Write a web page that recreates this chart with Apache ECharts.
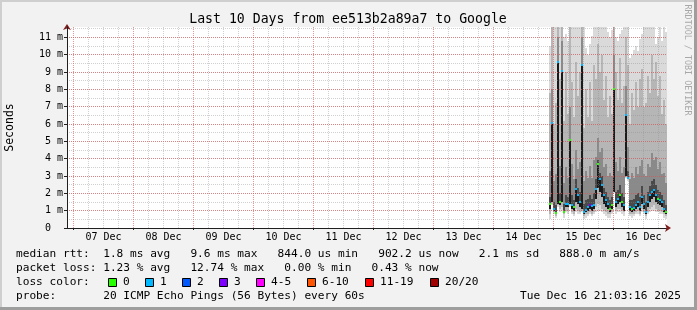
<!DOCTYPE html>
<html><head><meta charset="utf-8">
<script src="https://cdn.jsdelivr.net/npm/echarts@6/dist/echarts.min.js"></script>
<style>html,body{margin:0;padding:0;background:#f2f2f2}#c{width:697px;height:310px}</style>
</head><body><div id="c"></div>
<script>
// ---------------- data ----------------
const titleText = 'Last 10 Days from ee513b2a89a7 to Google';
const yAxisName = 'Seconds';
const sideText = 'RRDTOOL / TOBI OETIKER';
// x axis in hours since 07 Dec 00:00
const xStart = -2.6, xEnd = 237.4;
const dayLabels = ['07 Dec','08 Dec','09 Dec','10 Dec','11 Dec','12 Dec','13 Dec','14 Dec','15 Dec','16 Dec'];
const dayLabelHours = [12,36,60,84,108,132,156,180,204,228];
const midnightHours = [0,24,48,72,96,120,144,168,192,216];
const sixHourHours = [6,12,18,30,36,42,54,60,66,78,84,90,102,108,114,126,132,138,150,156,162,174,180,186,198,204,210,222,228,234];
const yMax = 11.6;
// RRD samples: first sample centre and step (hours)
const sampleStart = 190.6, sampleStep = 0.8;
// values in milliseconds (axis shows "m" = milli-seconds)
const median = [1.4,6.07,1.1,0.85,9.6,1.5,9.06,0.95,1.4,1.4,
                5.1,1.3,1.2,2.27,1.9,1.5,9.4,0.92,1.04,1.2,
                1.3,1.25,1.3,2.27,3.7,2.85,2.46,1.9,1.6,1.4,
                1.1,1.35,8.05,1.5,1.7,1.9,1.5,1.3,6.5,2.9,
                1.2,1.1,1.15,1.3,1.5,1.2,1.8,1.4,0.92,1.5,
                1.9,2.07,2.17,1.9,1.7,1.6,1.5,1.1,0.92];
const lossIdx = [0,1,1,0,1,0,1,0,1,1,
                 0,1,0,1,1,1,1,1,1,1,
                 3,1,1,1,0,1,1,1,1,1,
                 0,0,0,1,1,0,0,1,1,1,
                 1,0,1,1,1,1,1,1,1,1,
                 1,1,1,1,0,1,1,1,0];
const pingMin = [0.5,1.3,0.8,0.6,1.2,0.9,1.0,0.6,0.9,0.8,
                 1.2,0.8,0.7,0.9,0.8,0.8,0.9,0.5,0.6,0.7,
                 0.8,0.7,0.8,0.9,1.0,1.0,0.9,0.8,0.7,0.6,
                 0.6,0.8,2.0,0.8,0.9,0.9,0.8,0.7,2.9,2.7,
                 0.7,0.6,0.7,0.8,0.8,0.7,0.9,0.8,0.5,0.8,
                 0.9,1.0,1.0,0.9,0.9,0.8,0.8,0.6,0.5];
const ping10 = [0.8,1.4,0.9,0.7,1.3,1.1,1.2,0.8,1.0,1.0,
                1.3,0.9,0.8,1.1,1.0,0.9,1.0,0.7,0.8,0.8,
                0.9,0.8,0.9,1.2,1.4,1.3,1.1,1.0,0.9,0.8,
                0.8,0.9,2.05,1.0,1.1,1.1,1.0,0.9,2.95,2.8,
                0.8,0.8,0.8,0.9,1.0,0.8,1.1,0.9,0.7,0.9,
                1.1,1.2,1.3,1.1,1.0,1.0,0.9,0.8,0.7];
const ping25 = [1.1,1.5,1.0,0.8,1.4,1.3,1.5,0.9,1.2,1.2,
                1.4,1.1,1.0,1.5,1.4,1.2,1.1,0.8,0.9,1.0,
                1.1,1.0,1.1,1.7,2.3,2.1,1.8,1.4,1.2,1.1,
                0.9,1.1,2.1,1.2,1.4,1.5,1.2,1.0,3.0,2.85,
                1.0,0.9,1.0,1.1,1.2,1.0,1.4,1.1,0.8,1.2,
                1.5,1.7,1.8,1.5,1.4,1.3,1.2,0.9,0.8];
const ping60 = [1.8,3.0,1.5,1.3,3.0,2.0,3.0,1.4,1.9,1.8,
                3.0,1.9,1.6,2.8,2.3,2.1,3.0,1.4,1.6,1.7,
                1.9,1.7,2.0,2.8,3.9,3.2,3.0,2.3,2.1,1.8,
                1.6,1.8,3.0,2.1,2.2,2.5,2.0,1.8,3.5,3.3,
                1.6,1.6,1.7,1.9,2.0,1.8,2.4,1.9,1.5,2.1,
                2.4,2.7,2.8,2.5,2.2,2.1,1.9,1.6,1.3];
const ping75 = [3.3,8.0,2.7,3.1,11.0,3.6,10.8,2.6,3.5,2.9,
                7.0,3.7,2.8,4.5,3.4,3.8,11.0,2.7,3.3,2.9,
                3.6,2.9,3.9,4.1,5.2,4.4,4.6,3.5,3.7,3.0,
                3.2,3.0,10.0,3.8,3.3,4.1,3.2,3.5,8.2,4.7,
                2.8,3.2,2.9,3.5,3.1,3.6,3.9,3.1,3.0,3.7,
                3.5,4.3,3.9,4.1,3.4,3.8,3.1,3.2,2.6];
const ping90 = [7.8,11.6,6.0,7.2,11.6,8.6,11.6,6.2,9.0,6.6,
                11.6,8.4,6.4,9.6,7.6,9.0,11.6,5.8,8.0,6.4,
                8.4,6.2,9.4,8.6,10.6,9.0,10.0,7.4,8.8,6.4,
                7.6,6.6,11.6,9.0,7.4,9.8,7.2,8.2,11.0,9.4,
                6.0,7.8,6.8,8.4,7.0,8.6,9.2,7.0,7.2,8.8,
                7.8,10.0,8.6,9.6,7.6,8.8,6.6,7.4,6.0];
const pingMax = [10.5,12,12,12,12,12,12,11.0,11.2,10.8,
                 12,12,12,12,12,12,12,12,10.4,10.0,
                 10.6,11.1,12,12,12,12,12,12,12,11.3,
                 11.0,11.4,12,11.0,10.8,11.2,11.4,12,12,12,
                 9.8,10.0,10.3,10.5,10.2,10.9,11.2,12,12,12,
                 12,12,12,10.6,11.0,12,10.8,12,11.3];
const lossLabels = ['0','1','2','3','4-5','6-10','11-19','20/20'];
const lossColors = ['#26ff00','#00b8ff','#0059ff','#7e00ff','#ff00ff','#ff5500','#ff0000','#a10000'];
const statLines = [
  'median rtt:  1.8 ms avg   9.6 ms max   844.0 us min   902.2 us now   2.1 ms sd   888.0 m am/s',
  'packet loss: 1.23 % avg   12.74 % max   0.00 % min   0.43 % now'
];
const lossTitle = 'loss color:';
const probeLine = 'probe:       20 ICMP Echo Pings (56 Bytes) every 60s';
const stampText = 'Tue Dec 16 21:03:16 2025';

// ---------------- chart ----------------
const MONO = '"DejaVu Sans Mono", monospace';
const GRID_MINOR = 'rgba(143,143,143,0.42)';
const GRID_MAJOR = 'rgba(222,80,80,0.6)';
const chart = echarts.init(document.getElementById('c'), null, {renderer: 'canvas'});

function bandSeries(lo, hi, color, z) {
  return {
    type: 'custom', silent: true, animation: false, z: z, clip: true,
    xAxisIndex: 0, yAxisIndex: 0,
    data: lo.map((v, i) => [sampleStart + sampleStep * i, v, hi[i]]),
    encode: {x: 0, y: [1, 2]},
    renderItem: function (params, api) {
      const t = api.value(0);
      const a = api.value(1);
      const b = Math.min(api.value(2), yMax);
      if (b <= a) return null;
      const p0 = api.coord([t - sampleStep / 2, b]);
      const p1 = api.coord([t + sampleStep / 2, a]);
      return {type: 'rect', shape: {x: Math.round(p0[0]), y: Math.round(p0[1]), width: Math.round(p1[0]) - Math.round(p0[0]), height: Math.round(p1[1]) - Math.round(p0[1])}, style: {fill: color}};
    }
  };
}

const graphics = [];
// frame shading
graphics.push({type: 'rect', shape: {x: 0, y: 0, width: 697, height: 2}, style: {fill: '#cfcfcf'}, silent: true});
graphics.push({type: 'rect', shape: {x: 0, y: 0, width: 2, height: 310}, style: {fill: '#cfcfcf'}, silent: true});
graphics.push({type: 'rect', shape: {x: 694, y: 0, width: 3, height: 310}, style: {fill: '#9e9e9e'}, silent: true});
graphics.push({type: 'rect', shape: {x: 0, y: 307, width: 697, height: 3}, style: {fill: '#9e9e9e'}, silent: true});
// title
graphics.push({type: 'text', x: 348, y: 19.5, silent: true, style: {text: titleText, font: '13.2px ' + MONO, fill: '#000', align: 'center', verticalAlign: 'middle'}});
// y axis name
graphics.push({type: 'text', x: 10.5, y: 127.5, rotation: Math.PI / 2, silent: true, style: {text: yAxisName, font: '11.5px ' + MONO, fill: '#000', align: 'center', verticalAlign: 'middle'}});
// side watermark
graphics.push({type: 'text', x: 687, y: 60, rotation: -Math.PI / 2, silent: true, style: {text: sideText, font: '8.4px ' + MONO, fill: '#a8a8a8', align: 'center', verticalAlign: 'middle'}});
// stats
const legendFont = '11.15px ' + MONO;
const lineY = [254.5, 268.5, 282.5, 296.5];
statLines.forEach((s, i) => graphics.push({type: 'text', x: 16, y: lineY[i], silent: true, style: {text: s, font: legendFont, fill: '#000', align: 'left', verticalAlign: 'middle'}}));
graphics.push({type: 'text', x: 16, y: lineY[2], silent: true, style: {text: lossTitle, font: legendFont, fill: '#000', align: 'left', verticalAlign: 'middle'}});
let bx = 108;
lossLabels.forEach((lab, i) => {
  graphics.push({type: 'rect', shape: {x: bx + 0.5, y: 278.5, width: 8, height: 8}, style: {fill: lossColors[i], stroke: '#000', lineWidth: 1}, silent: true});
  graphics.push({type: 'text', x: bx + 15, y: lineY[2], silent: true, style: {text: lab, font: legendFont, fill: '#000', align: 'left', verticalAlign: 'middle'}});
  bx += 30 + 7 * lab.length;
});
graphics.push({type: 'text', x: 16, y: lineY[3], silent: true, style: {text: probeLine, font: legendFont, fill: '#000', align: 'left', verticalAlign: 'middle'}});
graphics.push({type: 'text', x: 681, y: lineY[3], silent: true, style: {text: stampText, font: legendFont, fill: '#000', align: 'right', verticalAlign: 'middle'}});

const vLines = sixHourHours.map(h => ({xAxis: h, lineStyle: {color: GRID_MINOR, type: [1, 1], width: 1}}))
  .concat(midnightHours.map(h => ({xAxis: h, lineStyle: {color: GRID_MAJOR, type: [1, 1], width: 1}})));

const option = {
  backgroundColor: '#f2f2f2',
  animation: false,
  grid: {left: 67, top: 27, width: 600, height: 201, show: true, backgroundColor: '#ffffff', borderWidth: 0},
  xAxis: [
    {type: 'value', min: xStart, max: xEnd, position: 'bottom', z: 6,
     axisLine: {show: true, onZero: false, lineStyle: {color: '#1f1f1f', width: 1}},
     axisTick: {show: true, customValues: midnightHours, length: 2, lineStyle: {color: '#1f1f1f'}},
     axisLabel: {show: true, customValues: dayLabelHours, margin: 4, fontFamily: MONO, fontSize: 10, color: '#000',
                 formatter: v => dayLabels[dayLabelHours.indexOf(Math.round(v))] || ''},
     splitLine: {show: false}},
    {type: 'value', min: xStart, max: xEnd, position: 'bottom', offset: 0, z: 7,
     axisLine: {show: true, onZero: false, symbol: ['none', 'arrow'], symbolSize: [6, 6], symbolOffset: [0, 4], lineStyle: {color: '#801f1f', width: 0}},
     axisTick: {show: false}, axisLabel: {show: false}, splitLine: {show: false}}
  ],
  yAxis: [
    {type: 'value', min: 0, max: yMax, interval: 1, position: 'left', z: 4.5,
     axisLine: {show: true, onZero: false, lineStyle: {color: '#1f1f1f', width: 1}},
     axisTick: {show: true, length: 3, lineStyle: {color: '#1f1f1f'}},
     axisLabel: {show: true, showMaxLabel: false, margin: 4, fontFamily: MONO, fontSize: 10, color: '#000',
                 formatter: v => v === 0 ? '0\u00a0\u00a0' : (Math.round(v) + ' m')},
     splitLine: {show: true, showMinLine: false, showMaxLine: false, lineStyle: {color: GRID_MAJOR, type: [1, 1], width: 1}}},
    {type: 'value', min: 0, max: yMax, interval: 0.5, position: 'left', offset: 0, z: 4,
     axisLine: {show: true, onZero: false, symbol: ['none', 'arrow'], symbolSize: [6, 6], symbolOffset: [0, 3], lineStyle: {color: '#801f1f', width: 0}},
     axisTick: {show: false}, axisLabel: {show: false},
     splitLine: {show: true, showMinLine: false, showMaxLine: false, lineStyle: {color: GRID_MINOR, type: [1, 1], width: 1}}}
  ],
  series: [
    bandSeries(pingMin, pingMax, '#dadada', 2),
    bandSeries(ping10, ping90, '#b6b6b6', 2.1),
    bandSeries(ping25, ping75, '#8a8a8a', 2.2),
    bandSeries(ping25, ping60, '#4a4a4a', 2.3),
    bandSeries(ping25, median, '#1a1a1a', 2.4),
    {
      type: 'line', data: [], xAxisIndex: 0, yAxisIndex: 0, silent: true, animation: false, z: 5,
      markLine: {silent: true, animation: false, symbol: ['none', 'none'], label: {show: false}, z: 5, data: vLines}
    },
    {
      type: 'custom', silent: true, animation: false, z: 8,
      xAxisIndex: 0, yAxisIndex: 0,
      data: median.map((v, i) => [sampleStart + sampleStep * i, v, lossIdx[i]]),
      encode: {x: 0, y: 1},
      renderItem: function (params, api) {
        const t = api.value(0), m = api.value(1);
        const p0 = api.coord([t - sampleStep / 2, m]);
        const p1 = api.coord([t + sampleStep / 2, m]);
        const x0 = Math.round(p0[0]);
        return {type: 'rect', shape: {x: x0, y: Math.round(p0[1]) - 1, width: Math.round(p1[0]) - x0, height: 2}, style: {fill: lossColors[api.value(2)]}};
      }
    }
  ],
  graphic: graphics
};
chart.setOption(option);
</script>
</body></html>
